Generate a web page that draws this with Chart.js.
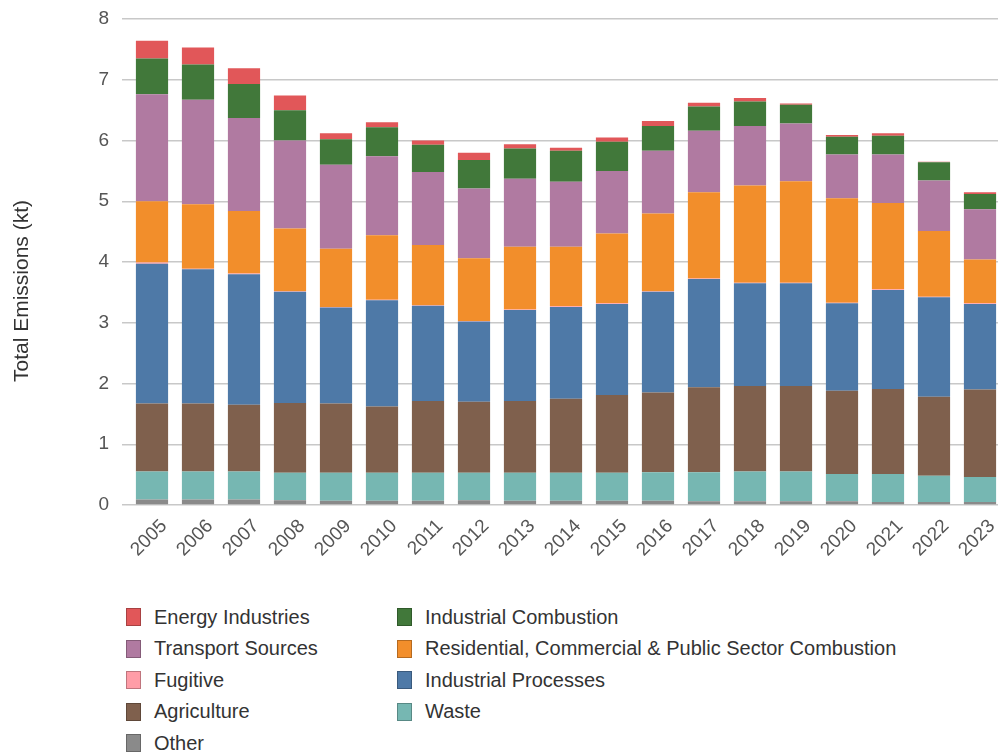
<!DOCTYPE html>
<html>
<head>
<meta charset="utf-8">
<script src="https://cdn.jsdelivr.net/npm/chart.js@4"></script>
<style>
  body { margin: 0; overflow: hidden; background: #fff; font-family: "Liberation Sans", Arial, sans-serif; }
  #wrap { position: absolute; left: 0; top: 0; width: 1004px; height: 565px; }
  #legend { position: absolute; left: 126px; top: 608px; display: grid; grid-template-columns: 271px auto; row-gap: 13.6px; }
  .item { display: flex; align-items: center; height: 18px; font-size: 20px; color: #333; white-space: nowrap; }
  .sw { width: 15px; height: 18px; margin-right: 13px; box-sizing: border-box; border: 1px solid rgba(0,0,0,0.25); }
</style>
</head>
<body>
<div id="wrap"><canvas id="myChart"></canvas></div>
<div id="legend"></div>
<script>
var years = ["2005","2006","2007","2008","2009","2010","2011","2012","2013","2014","2015","2016","2017","2018","2019","2020","2021","2022","2023"];

// values in kt, bottom of the stack first
var other       = [0.09,0.09,0.09,0.08,0.07,0.07,0.07,0.08,0.07,0.07,0.07,0.07,0.06,0.06,0.06,0.06,0.05,0.05,0.05];
var waste       = [0.46,0.46,0.46,0.45,0.46,0.46,0.46,0.45,0.46,0.46,0.46,0.47,0.48,0.49,0.49,0.45,0.46,0.43,0.41];
var agriculture = [1.12,1.12,1.10,1.15,1.14,1.09,1.18,1.17,1.18,1.22,1.28,1.31,1.40,1.41,1.41,1.37,1.40,1.30,1.44];
var indProc     = [2.30,2.21,2.15,1.83,1.58,1.75,1.57,1.32,1.50,1.51,1.50,1.66,1.78,1.69,1.69,1.44,1.63,1.64,1.41];
var fugitive    = [0.02,0.01,0.01,0.01,0.01,0.01,0.01,0.01,0.01,0.01,0.01,0.01,0.01,0.01,0.01,0.01,0.01,0.01,0.01];
var residential = [1.01,1.06,1.03,1.03,0.96,1.06,0.99,1.03,1.03,0.98,1.15,1.28,1.42,1.60,1.67,1.72,1.42,1.08,0.72];
var transport   = [1.76,1.72,1.53,1.45,1.38,1.30,1.20,1.15,1.12,1.07,1.03,1.03,1.01,0.98,0.95,0.72,0.80,0.83,0.83];
var indComb     = [0.59,0.58,0.56,0.50,0.42,0.48,0.45,0.47,0.50,0.51,0.48,0.41,0.40,0.40,0.31,0.29,0.31,0.30,0.25];
var energy      = [0.29,0.28,0.26,0.24,0.10,0.08,0.07,0.12,0.07,0.05,0.07,0.08,0.06,0.06,0.02,0.03,0.04,0.01,0.03];

var yTicks = [0,1,2,3,4,5,6,7,8];
var yTitle = "Total Emissions (kt)";

var series = [
  {label: "Other", data: other, color: "#8a8a8a"},
  {label: "Waste", data: waste, color: "#76b7b2"},
  {label: "Agriculture", data: agriculture, color: "#7f604d"},
  {label: "Industrial Processes", data: indProc, color: "#4e79a7"},
  {label: "Fugitive", data: fugitive, color: "#ff9da7"},
  {label: "Residential, Commercial & Public Sector Combustion", data: residential, color: "#f28e2b"},
  {label: "Transport Sources", data: transport, color: "#b07aa1"},
  {label: "Industrial Combustion", data: indComb, color: "#41783a"},
  {label: "Energy Industries", data: energy, color: "#e15759"}
];

var legendOrder = ["Energy Industries","Industrial Combustion","Transport Sources","Residential, Commercial & Public Sector Combustion","Fugitive","Industrial Processes","Agriculture","Waste","Other"];

var datasets = [];
for (var i = 0; i < series.length; i++) {
  datasets.push({
    label: series[i].label,
    data: series[i].data,
    backgroundColor: series[i].color,
    borderWidth: 0,
    barPercentage: 0.7,
    categoryPercentage: 1.0
  });
}

var fnt = "'Liberation Sans', Arial, sans-serif";

// y title sits in the middle of the whole canvas height, not the plot area
var yTitlePlugin = {
  id: "yTitle",
  afterDraw: function(chart) {
    var ctx = chart.ctx;
    ctx.save();
    ctx.translate(22, 291);
    ctx.rotate(-Math.PI / 2);
    ctx.font = "21px " + fnt;
    ctx.fillStyle = "#333";
    ctx.textAlign = "center";
    ctx.textBaseline = "middle";
    ctx.fillText(yTitle, 0, 0);
    ctx.restore();
  }
};

new Chart(document.getElementById("myChart"), {
  type: "bar",
  data: { labels: years, datasets: datasets },
  options: {
    responsive: true,
    maintainAspectRatio: false,
    animation: false,
    layout: { padding: { top: 19, right: 1, left: 0, bottom: 0 } },
    plugins: { legend: { display: false }, tooltip: { enabled: false } },
    scales: {
      x: {
        stacked: true,
        grid: { display: false },
        border: { display: false },
        ticks: { color: "#555", font: { family: fnt, size: 19 }, minRotation: 45, maxRotation: 45, padding: 2, labelOffset: 12 },
        afterFit: function(scale) { scale.height = 60; }
      },
      y: {
        stacked: true,
        min: 0,
        max: 8,
        afterBuildTicks: function(scale) { scale.ticks = yTicks.map(function(v) { return {value: v}; }); },
        grid: { color: "#c8c8c8", lineWidth: 1.5, tickLength: 7 },
        border: { display: false },
        ticks: { color: "#555", font: { family: fnt, size: 19 }, padding: 13 },
        afterFit: function(scale) { scale.width = 129; scale.paddingTop = 0; }
      }
    }
  },
  plugins: [yTitlePlugin]
});

var leg = document.getElementById("legend");
legendOrder.forEach(function(name) {
  var s = series.find(function(d) { return d.label === name; });
  var el = document.createElement("div");
  el.className = "item";
  el.innerHTML = '<span class="sw" style="background:' + s.color + '"></span>' + s.label;
  leg.appendChild(el);
});
</script>
</body>
</html>
